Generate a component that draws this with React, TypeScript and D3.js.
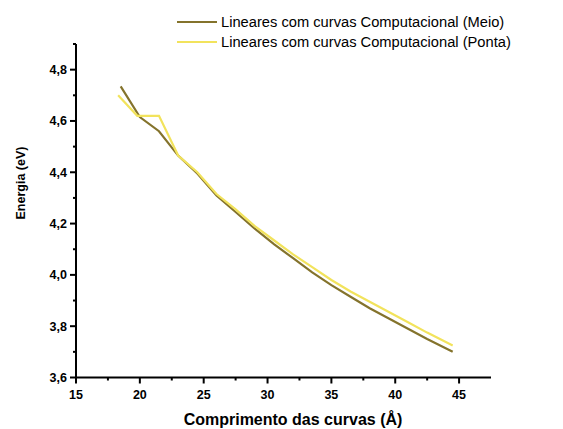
import React from "react";
import * as d3 from "d3";

const meioX = [18.5, 20, 21.5, 23, 24.5, 26, 27.5, 29, 30.5, 32, 33.5, 35, 36.5, 38, 39.5, 41, 42.5, 44.5];
const meioY = [4.735, 4.615, 4.56, 4.465, 4.395, 4.31, 4.245, 4.18, 4.12, 4.065, 4.01, 3.96, 3.915, 3.87, 3.83, 3.79, 3.75, 3.70];
const pontaX = [18.3, 19.8, 21.5, 23, 24.5, 26, 27.5, 29, 30.5, 32, 33.5, 35, 36.5, 38, 39.5, 41, 42.5, 44.5];
const pontaY = [4.70, 4.62, 4.62, 4.465, 4.40, 4.315, 4.255, 4.19, 4.135, 4.08, 4.03, 3.98, 3.935, 3.895, 3.855, 3.815, 3.775, 3.725];
const xTicks = [15, 20, 25, 30, 35, 40, 45];
const yTicks = [3.6, 3.8, 4.0, 4.2, 4.4, 4.6, 4.8];
const seriesNames = ["Lineares com curvas Computacional (Meio)", "Lineares com curvas Computacional (Ponta)"];
const seriesColors = ["#84732c", "#f2e35c"];

export default function App() {
  const W = 563, H = 429;
  const x = d3.scaleLinear().domain([15, 47.5]).range([76, 491]);
  const y = d3.scaleLinear().domain([3.6, 4.9]).range([377.5, 44]);
  const line = d3.line<[number, number]>().x(d => x(d[0])).y(d => y(d[1]));
  const meio: [number, number][] = meioX.map((v, i) => [v, meioY[i]]);
  const ponta: [number, number][] = pontaX.map((v, i) => [v, pontaY[i]]);
  const xMinor = xTicks.map(t => t + 2.5).filter(t => t < 47.5);
  const yMinor = yTicks.map(t => t + 0.1).filter(t => t < 4.9);
  const font = "'Liberation Sans', Arial, Helvetica, sans-serif";
  return (
    <svg width={W} height={H} style={{ position: "absolute", left: 0, top: 0, background: "#fff" }} fontFamily={font}>
      <path d={line(meio) || ""} fill="none" stroke={seriesColors[0]} strokeWidth={2.2} />
      <path d={line(ponta) || ""} fill="none" stroke={seriesColors[1]} strokeWidth={2.2} />
      {/* axes */}
      <line x1={x(15)} x2={x(15)} y1={y(4.9)} y2={y(3.6) + 1} stroke="#000" strokeWidth={2} />
      <line x1={x(15) - 1} x2={x(47.5)} y1={y(3.6)} y2={y(3.6)} stroke="#000" strokeWidth={2} />
      {xTicks.map(t => (
        <g key={"xt" + t}>
          <line x1={x(t)} x2={x(t)} y1={y(3.6)} y2={y(3.6) + 6} stroke="#000" strokeWidth={2} />
          <text x={x(t)} y={y(3.6) + 21} textAnchor="middle" fontSize={12.5} fontWeight="bold">{t}</text>
        </g>
      ))}
      {xMinor.map(t => (
        <line key={"xm" + t} x1={x(t)} x2={x(t)} y1={y(3.6)} y2={y(3.6) + 3} stroke="#000" strokeWidth={2} />
      ))}
      {yTicks.map(t => (
        <g key={"yt" + t}>
          <line x1={x(15) - 6} x2={x(15)} y1={y(t)} y2={y(t)} stroke="#000" strokeWidth={2} />
          <text x={x(15) - 9} y={y(t) + 4.5} textAnchor="end" fontSize={12.5} fontWeight="bold">{d3.format(".1f")(t).replace(".", ",")}</text>
        </g>
      ))}
      {yMinor.map(t => (
        <line key={"ym" + t} x1={x(15) - 3} x2={x(15)} y1={y(t)} y2={y(t)} stroke="#000" strokeWidth={2} />
      ))}
      <text x={293} y={425} textAnchor="middle" fontSize={16} fontWeight="bold">Comprimento das curvas (Å)</text>
      <text transform="translate(25,183) rotate(-90)" textAnchor="middle" fontSize={12.5} fontWeight="bold">Energia (eV)</text>
      {/* legend */}
      {seriesNames.map((n, i) => (
        <g key={n}>
          <line x1={177} x2={217} y1={22 + i * 20} y2={22 + i * 20} stroke={seriesColors[i]} strokeWidth={2.2} />
          <text x={221} y={27 + i * 20} fontSize={14.7}>{n}</text>
        </g>
      ))}
    </svg>
  );
}
